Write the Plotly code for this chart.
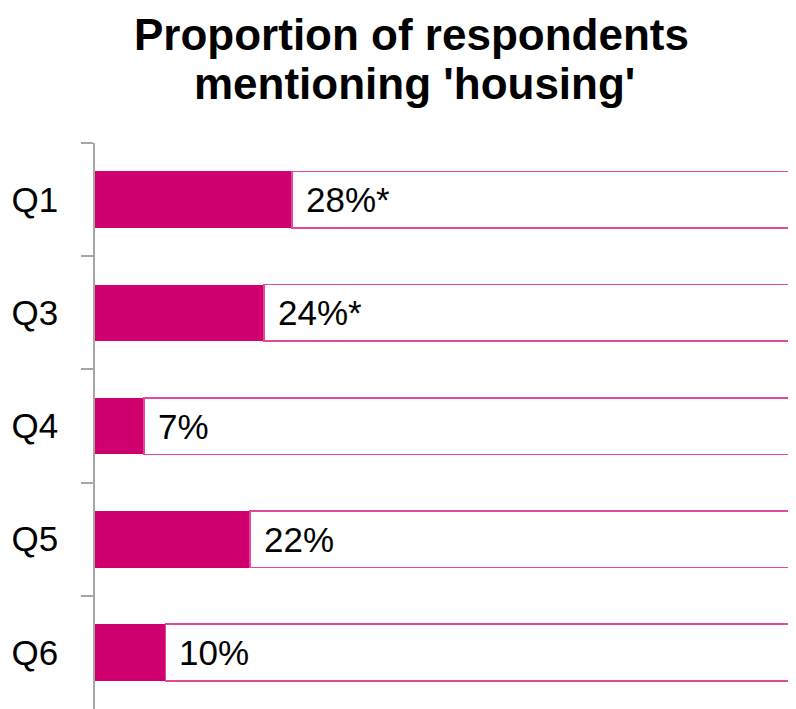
import plotly.graph_objects as go

categories = ["Q1", "Q3", "Q4", "Q5", "Q6"]
values = [28, 24, 7, 22, 10]
labels = ["28%*", "24%*", "7%", "22%", "10%"]
total = 100
title_lines = ["Proportion of respondents", "mentioning 'housing'"]

remainder = [total - v for v in values]

FILL = "#D0006F"
OUTLINE = "#E2489C"
FONT = "Liberation Sans, Arial, sans-serif"

# page body adds an 8px offset; figure sized to the visible area
W, H = 788, 701
L, T = 87, 135
PW, PH = W - L, H - T

fig = go.Figure()
fig.add_trace(go.Bar(
    y=categories, x=values, orientation="h",
    marker=dict(color=FILL, line=dict(width=0)),
    width=0.5, hoverinfo="skip", showlegend=False,
))
fig.add_trace(go.Bar(
    y=categories, x=remainder, orientation="h",
    marker=dict(color="white", line=dict(color=OUTLINE, width=1.6)),
    width=0.5, hoverinfo="skip", showlegend=False,
))

for c, v, t in zip(categories, values, labels):
    fig.add_annotation(
        x=v, y=c, text=t, showarrow=False,
        xanchor="left", yanchor="middle", xshift=12,
        font=dict(family=FONT, size=35, color="#000000"),
    )

# title lines (separate annotations to control line spacing)
for line, cx, cy in zip(title_lines, [411, 414], [35, 84]):
    fig.add_annotation(
        text="<b>" + line + "</b>", showarrow=False,
        xref="paper", yref="paper",
        x=(cx - 8 - L) / PW, y=1 + (T - (cy - 8)) / PH,
        xanchor="center", yanchor="middle",
        font=dict(family=FONT, size=44, color="#000000"),
    )

fig.update_layout(
    width=W, height=H,
    barmode="stack",
    paper_bgcolor="white", plot_bgcolor="white",
    margin=dict(l=L, r=0, t=T, b=0),
    xaxis=dict(range=[0, 99.6], visible=False, showgrid=False, zeroline=False,
               automargin=False),
    yaxis=dict(
        autorange="reversed", automargin=False,
        showline=True, linecolor="#A6A6A6", linewidth=1.5,
        ticks="outside", tickson="boundaries", ticklen=12, tickcolor="#A6A6A6", tickwidth=1.5,
        showgrid=False, zeroline=False,
        ticklabelstandoff=28,
        tickfont=dict(family=FONT, size=35, color="#000000"),
    ),
)

fig.write_html("out.html")
